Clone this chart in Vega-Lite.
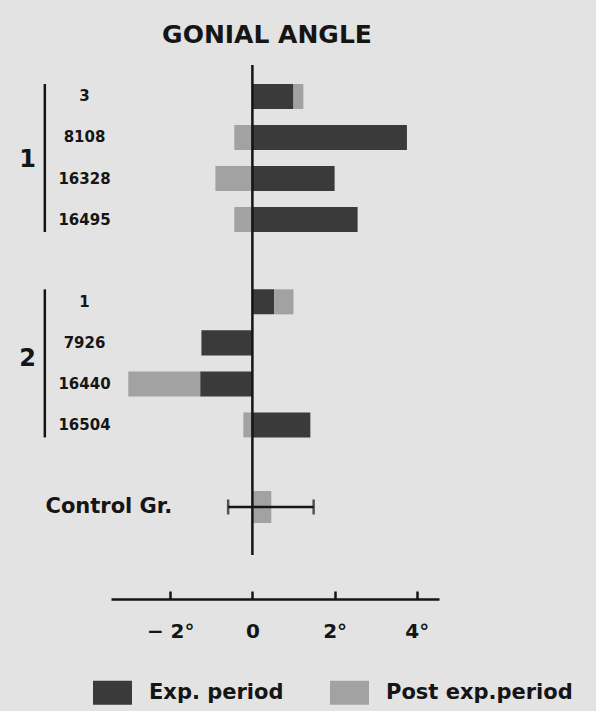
{
  "$schema": "https://vega.github.io/schema/vega-lite/v6.json",
  "background": "#e3e3e3",
  "padding": {"left": 18, "top": 22, "right": 30, "bottom": 20},
  "bounds": "flush",
  "spacing": 0,
  "datasets": {
    "bars": [
      {"subject": "3", "group": "1", "period": "Exp. period", "start": 0, "end": 1.0},
      {"subject": "3", "group": "1", "period": "Post exp.period", "start": 1.0, "end": 1.24},
      {"subject": "8108", "group": "1", "period": "Exp. period", "start": 0, "end": 3.76},
      {"subject": "8108", "group": "1", "period": "Post exp.period", "start": -0.44, "end": 0},
      {"subject": "16328", "group": "1", "period": "Exp. period", "start": 0, "end": 2.0},
      {"subject": "16328", "group": "1", "period": "Post exp.period", "start": -0.9, "end": 0},
      {"subject": "16495", "group": "1", "period": "Exp. period", "start": 0, "end": 2.56},
      {"subject": "16495", "group": "1", "period": "Post exp.period", "start": -0.44, "end": 0},
      {"subject": "1", "group": "2", "period": "Exp. period", "start": 0, "end": 0.53},
      {"subject": "1", "group": "2", "period": "Post exp.period", "start": 0.53, "end": 1.0},
      {"subject": "7926", "group": "2", "period": "Exp. period", "start": -1.24, "end": 0},
      {"subject": "16440", "group": "2", "period": "Exp. period", "start": -1.27, "end": 0},
      {"subject": "16440", "group": "2", "period": "Post exp.period", "start": -3.02, "end": -1.27},
      {"subject": "16504", "group": "2", "period": "Exp. period", "start": 0, "end": 1.41},
      {"subject": "16504", "group": "2", "period": "Post exp.period", "start": -0.22, "end": 0},
      {"subject": "Control Gr.", "group": "C", "period": "Post exp.period", "start": 0, "end": 0.46}
    ],
    "control": [{"subject": "Control Gr.", "lo": -0.59, "hi": 1.49}],
    "brackets": [
      {"group": "1", "first": "3", "last": "16495", "xpos": -5.05},
      {"group": "2", "first": "1", "last": "16504", "xpos": -5.05}
    ],
    "zero": [{"value": 0}]
  },
  "resolve": {"scale": {"y": "independent"}},
  "vconcat": [
    {
      "width": 328,
      "height": 186,
      "title": {"text": "GONIAL ANGLE", "fontSize": 25, "fontWeight": "bold", "anchor": "middle", "dx": -8, "offset": 16, "color": "#151515"},
      "layer": [
        {
          "data": {"name": "bars"},
          "transform": [{"filter": "datum.group == '1'"}],
          "mark": {"type": "bar"},
          "encoding": {
            "y": {"field": "subject", "type": "nominal",
              "scale": {"domain": ["3", "8108", "16328", "16495"], "paddingInner": 0.39, "paddingOuter": 0.463},
              "axis": {"title": "1", "titleAngle": 0, "titleX": -84, "titleY": 94, "titleAlign": "center", "titleBaseline": "middle", "titleFontSize": 24, "titleFontWeight": "bold", "labelAlign": "center", "labelPadding": 27, "labelFontSize": 15, "labelFontWeight": "bold", "ticks": false, "tickSize": 0, "domain": false}},
            "x": {"field": "start", "type": "quantitative", "scale": {"domain": [-3.44, 4.54], "nice": false, "zero": false}, "axis": null},
            "x2": {"field": "end"},
            "color": {"field": "period", "type": "nominal",
              "scale": {"domain": ["Exp. period", "Post exp.period"], "range": ["#3a3a3a", "#a2a2a2"]},
              "legend": {"orient": "none", "legendX": -18, "legendY": 608, "direction": "horizontal", "title": null, "symbolType": "M-1,-0.615L1,-0.615L1,0.615L-1,0.615Z", "symbolSize": 1521, "symbolStrokeWidth": 0, "symbolOpacity": 1, "labelFontSize": 21, "labelFontWeight": "bold", "labelOffset": 17, "columnPadding": 46, "labelLimit": 300, "padding": 0, "labelColor": "#151515"}}
          }
        },
        {
          "data": {"name": "brackets"},
          "transform": [{"filter": "datum.group == '1'"}],
          "mark": {"type": "rule", "strokeWidth": 2.5, "color": "#151515"},
          "encoding": {
            "x": {"field": "xpos", "type": "quantitative"},
            "y": {"field": "first", "type": "nominal", "bandPosition": 0},
            "y2": {"field": "last", "bandPosition": 1}
          }
        },
        {
          "data": {"name": "zero"},
          "mark": {"type": "rule", "strokeWidth": 2.5, "color": "#151515"},
          "encoding": {"x": {"field": "value", "type": "quantitative"}}
        }
      ]
    },
    {
      "width": 328,
      "height": 208,
      "layer": [
        {
          "data": {"name": "bars"},
          "transform": [{"filter": "datum.group == '2'"}],
          "mark": {"type": "bar"},
          "encoding": {
            "y": {"field": "subject", "type": "nominal",
              "scale": {"domain": ["1", "7926", "16440", "16504"], "paddingInner": 0.39, "paddingOuter": 0.73, "align": 0.64},
              "axis": {"title": "2", "titleAngle": 0, "titleX": -84, "titleY": 107, "titleAlign": "center", "titleBaseline": "middle", "titleFontSize": 24, "titleFontWeight": "bold", "labelAlign": "center", "labelPadding": 27, "labelFontSize": 15, "labelFontWeight": "bold", "ticks": false, "tickSize": 0, "domain": false}},
            "x": {"field": "start", "type": "quantitative", "scale": {"domain": [-3.44, 4.54], "nice": false, "zero": false}, "axis": null},
            "x2": {"field": "end"},
            "color": {"field": "period", "type": "nominal"}
          }
        },
        {
          "data": {"name": "brackets"},
          "transform": [{"filter": "datum.group == '2'"}],
          "mark": {"type": "rule", "strokeWidth": 2.5, "color": "#151515"},
          "encoding": {
            "x": {"field": "xpos", "type": "quantitative"},
            "y": {"field": "first", "type": "nominal", "bandPosition": 0},
            "y2": {"field": "last", "bandPosition": 1}
          }
        },
        {
          "data": {"name": "zero"},
          "mark": {"type": "rule", "strokeWidth": 2.5, "color": "#151515"},
          "encoding": {"x": {"field": "value", "type": "quantitative"}}
        }
      ]
    },
    {
      "width": 328,
      "height": 96,
      "layer": [
        {
          "data": {"name": "bars"},
          "transform": [{"filter": "datum.group == 'C'"}],
          "mark": {"type": "bar"},
          "encoding": {
            "y": {"field": "subject", "type": "nominal",
              "scale": {"domain": ["Control Gr."], "paddingInner": 0, "paddingOuter": 1.42},
              "axis": {"title": null, "labelAlign": "left", "labelPadding": 66, "labelFontSize": 21, "labelFontWeight": "bold", "ticks": false, "tickSize": 0, "domain": false}},
            "x": {"field": "start", "type": "quantitative", "scale": {"domain": [-3.44, 4.54], "nice": false, "zero": false},
              "axis": {"values": [-2, 0, 2, 4], "offset": 44, "title": null, "grid": false, "labelExpr": "datum.value == 0 ? '0' : (datum.value < 0 ? '\u2212 ' + abs(datum.value) + '\u00b0' : datum.value + '\u00b0')", "tickSize": -8, "tickWidth": 2.5, "tickColor": "#151515", "domainWidth": 2.5, "domainColor": "#151515", "labelFontSize": 20, "labelFontWeight": "bold", "labelPadding": 40, "labelBaseline": "middle", "labelFlush": false, "labelColor": "#151515"}},
            "x2": {"field": "end"},
            "color": {"field": "period", "type": "nominal"}
          }
        },
        {
          "data": {"name": "zero"},
          "mark": {"type": "rule", "strokeWidth": 2.5, "color": "#151515"},
          "encoding": {"x": {"field": "value", "type": "quantitative"}}
        },
        {
          "data": {"name": "control"},
          "mark": {"type": "rule", "strokeWidth": 2.5, "color": "#151515"},
          "encoding": {
            "y": {"field": "subject", "type": "nominal"},
            "x": {"field": "lo", "type": "quantitative"},
            "x2": {"field": "hi"}
          }
        },
        {
          "data": {"name": "control"},
          "transform": [{"fold": ["lo", "hi"], "as": ["end_name", "end_value"]}],
          "mark": {"type": "tick", "size": 15, "thickness": 2.5, "color": "#151515", "orient": "vertical"},
          "encoding": {
            "y": {"field": "subject", "type": "nominal"},
            "x": {"field": "end_value", "type": "quantitative"}
          }
        }
      ]
    }
  ],
  "config": {
    "font": "DejaVu Sans",
    "view": {"stroke": null},
    "axis": {"labelColor": "#151515", "titleColor": "#151515"},
    "bar": {"opacity": 1}
  }
}
